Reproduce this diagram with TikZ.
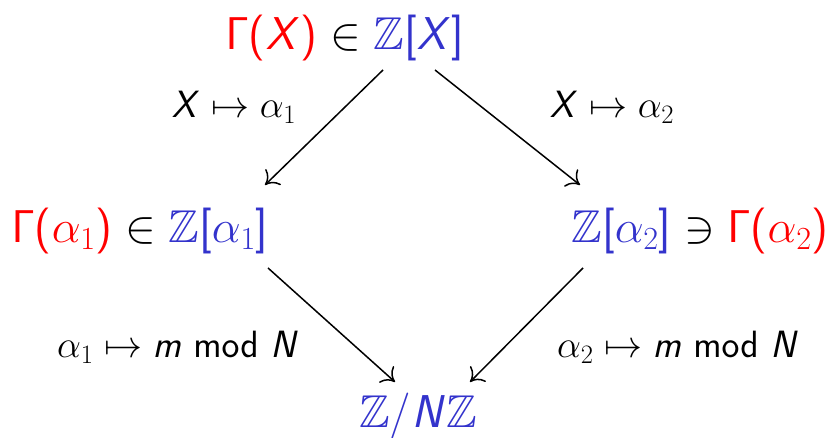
\RequirePackage{fix-cm}
\documentclass[tikz,border=0pt]{standalone}
\usepackage{amssymb}
\usetikzlibrary{calc,arrows.meta}
\DeclareMathAlphabet{\mathsfit}{OT1}{cmss}{m}{sl}
\DeclareMathAlphabet{\mathsfup}{OT1}{cmss}{m}{n}
\definecolor{zblue}{RGB}{51,51,204}
\definecolor{gred}{RGB}{255,0,0}
\newcommand{\Gm}{\mathsfup{\Gamma}}
\newcommand{\lp}{\mathopen{\textsf{(}}}
\newcommand{\rp}{\mathclose{\textsf{)}}}
\newcommand{\lb}{\mathopen{\textsf{[}}}
\newcommand{\rb}{\mathclose{\textsf{]}}}
\newcommand{\sslash}{\mathord{\textsf{/}}}
\begin{document}
\begin{tikzpicture}[x=1pt,y=1pt,
  big/.style={anchor=base,inner sep=0pt,font=\fontsize{46}{54}\selectfont},
  lab/.style={anchor=base,inner sep=0pt,font=\fontsize{38}{44}\selectfont},
  arr/.style={-{Computer Modern Rightarrow[length=12pt,width=22pt]},line width=1.5pt}]
\useasboundingbox (0,0) rectangle (833,438);
\node[big] (top) at (345,388) {$\color{gred}\Gm\lp\mathsfit{X}\rp\color{black}\in\color{zblue}\mathbb{Z}\lb\mathsfit{X}\rb$};
\node[big] (left) at (140,195) {$\color{gred}\Gm\lp\alpha_1\rp\color{black}\in\color{zblue}\mathbb{Z}\lb\alpha_1\rb$};
\node[big] (right) at (700,195) {$\color{zblue}\mathbb{Z}\lb\alpha_2\rb\color{black}\ni\color{gred}\Gm\lp\alpha_2\rp$};
\node[big] (bot) at (418,10) {$\color{zblue}\mathbb{Z}\sslash\mathsfit{N}\mathbb{Z}$};
\node[lab] (l1) at (234,320) {$\mathsfit{X}\mapsto\alpha_1$};
\node[lab] (l2) at (612,320) {$\mathsfit{X}\mapsto\alpha_2$};
\node[lab] (l3) at (178,80) {$\alpha_1\mapsto\mathsfit{m}\ \mathsfup{mod}\ \mathsfit{N}$};
\node[lab] (l4) at (678,80) {$\alpha_2\mapsto\mathsfit{m}\ \mathsfup{mod}\ \mathsfit{N}$};
\draw[arr] ($(top.base)+(38,-20)$) -- ($(left.base)+(125,58)$);
\draw[arr] ($(top.base)+(90,-20)$) -- ($(right.base)+(-120,58)$);
\draw[arr] ($(left.base)+(128,-25)$) -- ($(bot.base)+(-23,46)$);
\draw[arr] ($(right.base)+(-117,-25)$) -- ($(bot.base)+(52,46)$);
\end{tikzpicture}
\end{document}
